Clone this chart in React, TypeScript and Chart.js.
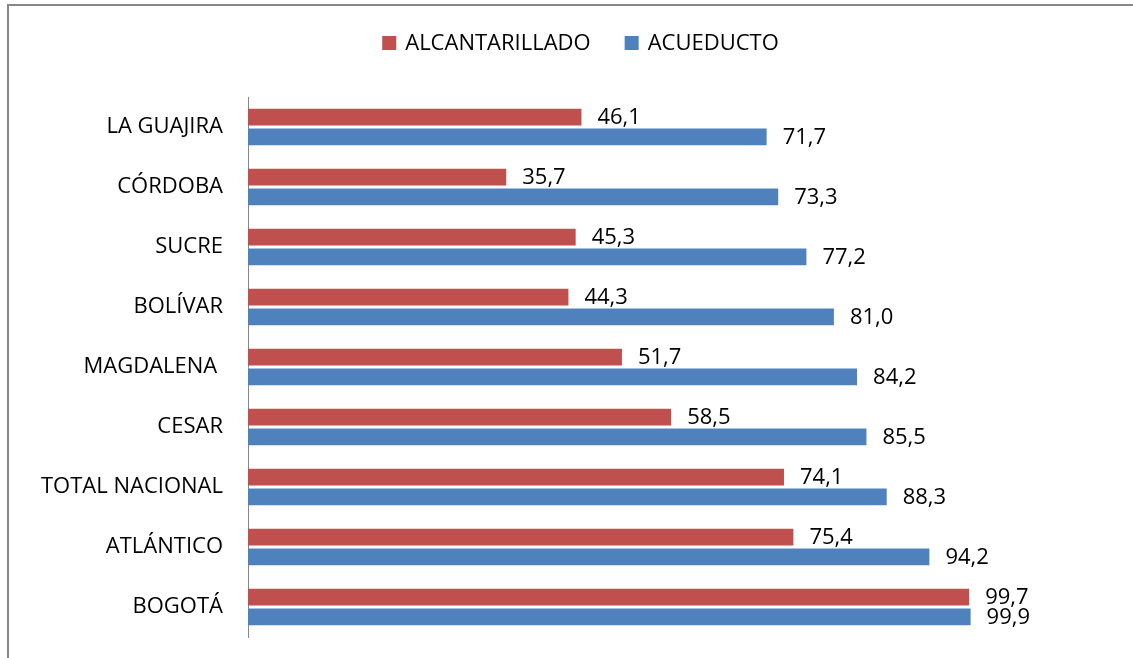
import React, { useEffect, useRef } from "react";
import { Chart, registerables } from "chart.js";

Chart.register(...registerables);

const categories = [
  "LA GUAJIRA",
  "CÓRDOBA",
  "SUCRE",
  "BOLÍVAR",
  "MAGDALENA ",
  "CESAR",
  "TOTAL NACIONAL",
  "ATLÁNTICO",
  "BOGOTÁ",
];
const alcantarillado = [46.1, 35.7, 45.3, 44.3, 51.7, 58.5, 74.1, 75.4, 99.7];
const acueducto = [71.7, 73.3, 77.2, 81.0, 84.2, 85.5, 88.3, 94.2, 99.9];
const seriesNames = ["ALCANTARILLADO", "ACUEDUCTO"];
const seriesColors = ["#C0504D", "#4F81BD"];

const FONT = "'Open Sans', 'DejaVu Sans', sans-serif";

const fmt = (v: number) => v.toFixed(1).replace(".", ",");

const valueLabels = {
  id: "valueLabels",
  afterDatasetsDraw(chart: any) {
    const ctx = chart.ctx;
    ctx.save();
    ctx.font = `22px ${FONT}`;
    ctx.fillStyle = "#000";
    ctx.textAlign = "left";
    ctx.textBaseline = "middle";
    chart.data.datasets.forEach((ds: any, di: number) => {
      const meta = chart.getDatasetMeta(di);
      meta.data.forEach((bar: any, i: number) => {
        ctx.fillText(fmt(ds.data[i]), bar.x + 16, bar.y + 1);
      });
    });
    ctx.restore();
  },
};

const customLegend = {
  id: "customLegend",
  afterDraw(chart: any) {
    const ctx = chart.ctx;
    ctx.save();
    ctx.font = `22px ${FONT}`;
    ctx.textBaseline = "middle";
    ctx.textAlign = "left";
    const box = 14;
    const gapBoxText = 9;
    const gapItems = 34;
    const items = chart.data.datasets.map((ds: any) => ({
      label: ds.label,
      color: ds.backgroundColor,
      w: ctx.measureText(ds.label).width,
    }));
    const total =
      items.reduce((s: number, it: any) => s + box + gapBoxText + it.w, 0) +
      gapItems * (items.length - 1);
    const centerX = 580.5;
    const cy = 43;
    let x = centerX - total / 2;
    items.forEach((it: any) => {
      ctx.fillStyle = it.color;
      ctx.fillRect(x, cy - box / 2, box, box);
      x += box + gapBoxText;
      ctx.fillStyle = "#000";
      ctx.fillText(it.label, x, cy + 1);
      x += it.w + gapItems;
    });
    ctx.restore();
  },
};

export default function App() {
  const canvasRef = useRef<HTMLCanvasElement | null>(null);

  useEffect(() => {
    if (!canvasRef.current) return;
    const chart = new Chart(canvasRef.current, {
      type: "bar",
      data: {
        labels: categories,
        datasets: [
          {
            label: seriesNames[0],
            data: alcantarillado,
            backgroundColor: seriesColors[0],
            categoryPercentage: 0.66,
            barPercentage: 0.85,
          },
          {
            label: seriesNames[1],
            data: acueducto,
            backgroundColor: seriesColors[1],
            categoryPercentage: 0.66,
            barPercentage: 0.85,
          },
        ],
      },
      options: {
        indexAxis: "y",
        animation: false,
        responsive: false,
        maintainAspectRatio: false,
        layout: { padding: { left: 8, right: 17, top: 97, bottom: 21 } },
        plugins: {
          legend: { display: false },
          tooltip: { enabled: false },
        },
        scales: {
          x: {
            display: false,
            min: 0,
            max: 120,
          },
          y: {
            grid: { display: false, drawTicks: false },
            border: { display: true, color: "#868686", width: 1 },
            ticks: {
              color: "#000",
              font: { family: FONT, size: 22 },
              padding: 25,
            },
            afterFit(scale: any) {
              scale.width = 240;
              scale.paddingTop = 0;
              scale.paddingBottom = 0;
            },
          },
        },
      },
      plugins: [valueLabels, customLegend],
    });
    return () => chart.destroy();
  }, []);

  return (
    <div
      style={{
        position: "absolute",
        left: 0,
        top: 0,
        width: 1133,
        height: 658,
        overflow: "hidden",
        background: "#fff",
      }}
    >
      <div
        style={{
          position: "absolute",
          left: 7,
          top: 4,
          width: 2000,
          height: 2000,
          borderLeft: "2px solid #878787",
          borderTop: "2px solid #878787",
        }}
      />
      <canvas
        ref={canvasRef}
        width={1133}
        height={658}
        style={{ position: "absolute", left: 0, top: 0 }}
      />
    </div>
  );
}
